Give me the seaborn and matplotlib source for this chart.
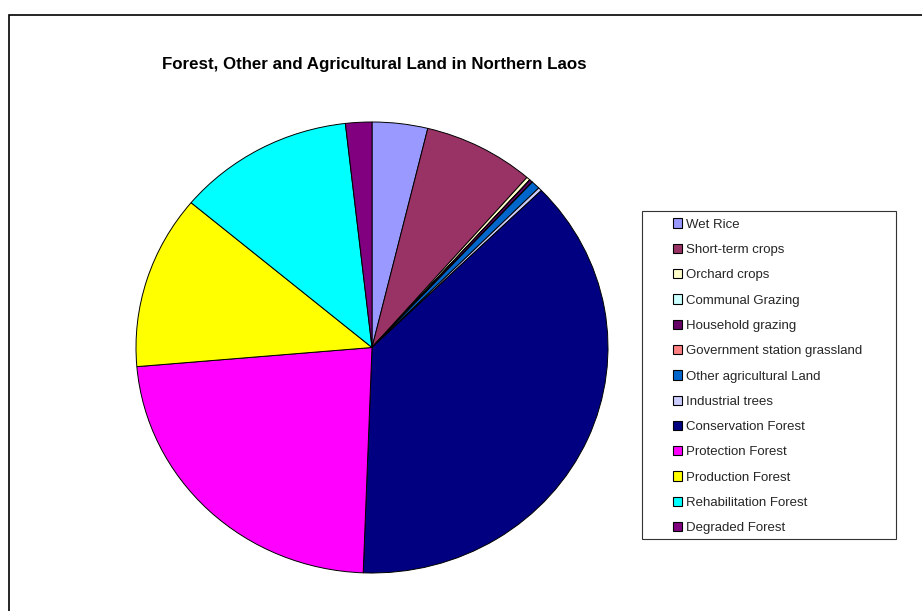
import matplotlib
matplotlib.use("Agg")
import matplotlib.pyplot as plt
import matplotlib.patches as mpatches
import seaborn as sns

# land use categories and shares (%)
categories = [
    "Wet Rice", "Short-term crops", "Orchard crops", "Communal Grazing",
    "Household grazing", "Government station grassland", "Other agricultural Land",
    "Industrial trees", "Conservation Forest", "Protection Forest",
    "Production Forest", "Rehabilitation Forest", "Degraded Forest",
]
shares = [3.8, 7.6, 0.25, 0.02, 0.2, 0.02, 0.6, 0.25, 37.85, 23.05, 12.45, 12.1, 1.8]

# classic Excel chart palette
colors = [
    "#9999FF", "#993366", "#FFFFCC", "#CCFFFF", "#660066", "#FF8080", "#0066CC",
    "#CCCCFF", "#000080", "#FF00FF", "#FFFF00", "#00FFFF", "#800080",
]

sns.set_theme(style="white")
plt.rcParams['font.family'] = ['Liberation Sans', 'DejaVu Sans']

W, H = 922, 611
fig = plt.figure(figsize=(W / 100, H / 100), dpi=100)

# pie axes, slightly stretched horizontally like the original
cx, cy, rx, ry = 372, 347.5, 236, 225.5
ax = fig.add_axes([(cx - rx) / W, (H - cy - ry) / H, 2 * rx / W, 2 * ry / H])
wedges, _ = ax.pie(shares, colors=colors, startangle=90, counterclock=False,
                   wedgeprops=dict(edgecolor="black", linewidth=0.7))
ax.set_aspect("auto")
ax.set_xlim(-1, 1)
ax.set_ylim(-1, 1)
ax.axis("off")

fig.text(374 / W, 1 - 65 / H, "Forest, Other and Agricultural Land in Northern Laos",
         ha="center", va="center", fontsize=12.2, fontweight="bold", color="black")

# outer chart border (right and bottom edges fall outside the picture)
fig.patches.append(mpatches.Rectangle((8.5 / W, -0.05), 1.2, 1.05 - 14.5 / H,
                                      transform=fig.transFigure, fill=False,
                                      edgecolor="black", linewidth=1.2))

# legend box
lx0, ly0, lx1, ly1 = 642, 211, 896, 539
fig.patches.append(mpatches.Rectangle((lx0 / W, 1 - ly1 / H), (lx1 - lx0) / W, (ly1 - ly0) / H,
                                      transform=fig.transFigure, fill=False,
                                      edgecolor="#333333", linewidth=0.8))

handles = [mpatches.Patch(facecolor=c, edgecolor="black", linewidth=0.8) for c in colors]
fig.legend(handles, categories, loc="upper left", bbox_to_anchor=(673 / W, 1 - 218.5 / H),
           frameon=False, fontsize=9.5, handlelength=0.7, handleheight=0.7,
           handletextpad=0.29, labelspacing=0.99, borderpad=0, borderaxespad=0)

fig.savefig("out.png", dpi=100, facecolor="white")
